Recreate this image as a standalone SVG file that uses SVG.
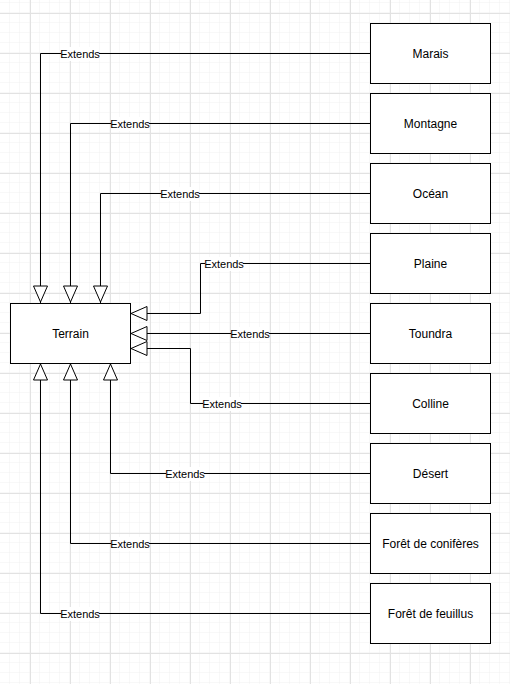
<svg xmlns="http://www.w3.org/2000/svg" width="510" height="684" viewBox="0 0 510 684">
<defs>
<pattern id="minor" width="10" height="10" patternUnits="userSpaceOnUse" x="0" y="3">
<path d="M10 0V10M0 10H10" fill="none" stroke="#f1f1f1" stroke-width="1"/>
</pattern>
<pattern id="major" width="40" height="40" patternUnits="userSpaceOnUse" x="-10" y="13">
<path d="M0.5 0V40M0 0.5H40" fill="none" stroke="#e2e2e2" stroke-width="1"/>
</pattern>
<marker id="tri" viewBox="0 0 18 16" refX="18" refY="8" markerWidth="18" markerHeight="16" markerUnits="userSpaceOnUse" orient="auto">
<path d="M1 1L17 8L1 15Z" fill="#fff" stroke="#000" stroke-width="1"/>
</marker>
<style>
.box{fill:#fff;stroke:#000;stroke-width:1}
.t{font-family:"Liberation Sans",Arial,sans-serif;font-size:12px;fill:#000;text-anchor:middle;dominant-baseline:central}
.c{fill:none;stroke:#000;stroke-width:1;marker-end:url(#tri)}
.lb{font-family:"Liberation Sans",Arial,sans-serif;font-size:11px;fill:#000;text-anchor:middle;dominant-baseline:central}
.lbg{fill:#fff}
</style>
</defs>
<rect width="510" height="684" fill="#fff"/>
<rect width="510" height="684" fill="url(#minor)"/>
<rect width="510" height="684" fill="url(#major)"/>
<g id="connectors">
<path class="c" d="M370 53.5H40.5V303"/>
<path class="c" d="M370 123.5H70.5V303"/>
<path class="c" d="M370 193.5H100.5V303"/>
<path class="c" d="M370 263.5H200.5V313.5H130"/>
<path class="c" d="M370 333.5H130"/>
<path class="c" d="M370 403.5H190.5V348.5H130"/>
<path class="c" d="M370 473.5H110.5V363"/>
<path class="c" d="M370 543.5H70.5V363"/>
<path class="c" d="M370 613.5H40.5V363"/>
<g id="labels">
<rect class="lbg" x="61" y="47" width="38" height="14"/><text class="lb" x="80" y="54">Extends</text>
<rect class="lbg" x="111" y="117" width="38" height="14"/><text class="lb" x="130" y="124">Extends</text>
<rect class="lbg" x="161" y="187" width="38" height="14"/><text class="lb" x="180" y="194">Extends</text>
<rect class="lbg" x="205" y="257" width="38" height="14"/><text class="lb" x="224" y="264">Extends</text>
<rect class="lbg" x="231" y="327" width="38" height="14"/><text class="lb" x="250" y="334">Extends</text>
<rect class="lbg" x="203" y="397" width="38" height="14"/><text class="lb" x="222" y="404">Extends</text>
<rect class="lbg" x="166" y="467" width="38" height="14"/><text class="lb" x="185" y="474">Extends</text>
<rect class="lbg" x="111" y="537" width="38" height="14"/><text class="lb" x="130" y="544">Extends</text>
<rect class="lbg" x="61" y="607" width="38" height="14"/><text class="lb" x="80" y="614">Extends</text>
</g>
</g>
<g id="terrain"><rect class="box" x="10.5" y="303.5" width="120" height="60"/><text class="t" x="70.5" y="333.5">Terrain</text></g>
<g id="marais"><rect class="box" x="370.5" y="23.5" width="120" height="60"/><text class="t" x="430.5" y="53.5">Marais</text></g>
<g id="montagne"><rect class="box" x="370.5" y="93.5" width="120" height="60"/><text class="t" x="430.5" y="123.5">Montagne</text></g>
<g id="ocean"><rect class="box" x="370.5" y="163.5" width="120" height="60"/><text class="t" x="430.5" y="193.5">Océan</text></g>
<g id="plaine"><rect class="box" x="370.5" y="233.5" width="120" height="60"/><text class="t" x="430.5" y="263.5">Plaine</text></g>
<g id="toundra"><rect class="box" x="370.5" y="303.5" width="120" height="60"/><text class="t" x="430.5" y="333.5">Toundra</text></g>
<g id="colline"><rect class="box" x="370.5" y="373.5" width="120" height="60"/><text class="t" x="430.5" y="403.5">Colline</text></g>
<g id="desert"><rect class="box" x="370.5" y="443.5" width="120" height="60"/><text class="t" x="430.5" y="473.5">Désert</text></g>
<g id="conifere"><rect class="box" x="370.5" y="513.5" width="120" height="60"/><text class="t" x="430.5" y="543.5">Forêt de conifères</text></g>
<g id="feuillus"><rect class="box" x="370.5" y="583.5" width="120" height="60"/><text class="t" x="430.5" y="613.5">Forêt de feuillus</text></g>
</svg>
